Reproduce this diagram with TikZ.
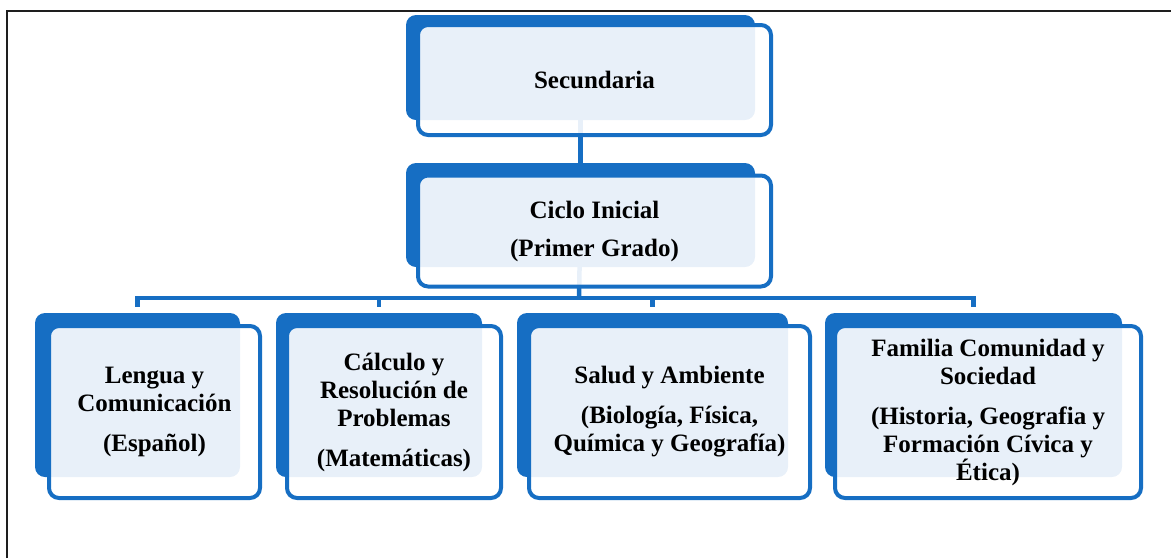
\documentclass[tikz,border=0pt]{standalone}
\usepackage{fontspec}
\setmainfont{Liberation Serif}
\usetikzlibrary{backgrounds}
\definecolor{boxblue}{RGB}{22,110,195}
\definecolor{framegray}{RGB}{30,30,30}
\tikzset{
  backbox/.style={fill=boxblue, draw=none, rounded corners=10pt, inner sep=0pt},
  frontbox/.style={draw=boxblue, line width=4pt, fill=white, fill opacity=0.9, text opacity=1,
    rounded corners=10pt, inner sep=2pt, align=center, text=black,
    font=\bfseries\fontsize{25}{28}\selectfont},
  conn/.style={draw=boxblue, line width=4.5pt},
  framelines/.style={draw=framegray, line width=2pt}
}
\begin{document}
\begin{tikzpicture}[x=1pt, y=-1pt]
\useasboundingbox (0,0) rectangle (1171,558);
% frame
\coordinate (fr0) at (7,558);
\coordinate (fr1) at (7,11);
\coordinate (fr2) at (1171,11);
\draw[framelines] (fr0) -- (fr1) -- (fr2);
% back boxes
\node[backbox, minimum width=349pt, minimum height=105pt] (b0) at (580.5,67.5) {};
\node[backbox, minimum width=349pt, minimum height=104pt] (b1) at (580.5,215) {};
\node[backbox, minimum width=205pt, minimum height=164pt] (bA) at (137.5,395) {};
\node[backbox, minimum width=206pt, minimum height=164pt] (bB) at (379,395) {};
\node[backbox, minimum width=271pt, minimum height=164pt] (bC) at (652.5,395) {};
\node[backbox, minimum width=297pt, minimum height=164pt] (bD) at (973.5,395) {};
% front boxes
\node[frontbox, minimum width=353pt, minimum height=110pt] (f0) at (594.5,80) {Secundaria};
\node[frontbox, minimum width=353pt, minimum height=111pt] (f1) at (594.5,231) {Ciclo Inicial\\[10pt](Primer Grado)};
\node[frontbox, minimum width=211pt, minimum height=172pt] (fA) at (154.5,412) {Lengua y\\Comunicación\\[12pt](Español)};
\node[frontbox, minimum width=214pt, minimum height=172pt] (fB) at (394,412) {Cálculo y\\Resolución de\\Problemas\\[12pt](Matemáticas)};
\node[frontbox, minimum width=281pt, minimum height=172pt] (fC) at (669.5,412) {Salud y Ambiente\\[12pt](Biología, Física,\\Química y Geografía)};
\node[frontbox, minimum width=306pt, minimum height=172pt] (fD) at (988,412) {Familia Comunidad y\\Sociedad\\[12pt](Historia, Geografia y\\Formación Cívica y\\Ética)};
% connectors
\begin{scope}[on background layer]
\draw[conn] (b0.center) -- (b1.center);
\coordinate (bus) at (579,298);
\draw[conn] (b1.center) -- (bus);
\foreach \n in {bA,bB,bC,bD} {
  \draw[conn] (bus) -| ([yshift=6pt]\n.north);
}
\end{scope}
\end{tikzpicture}
\end{document}
